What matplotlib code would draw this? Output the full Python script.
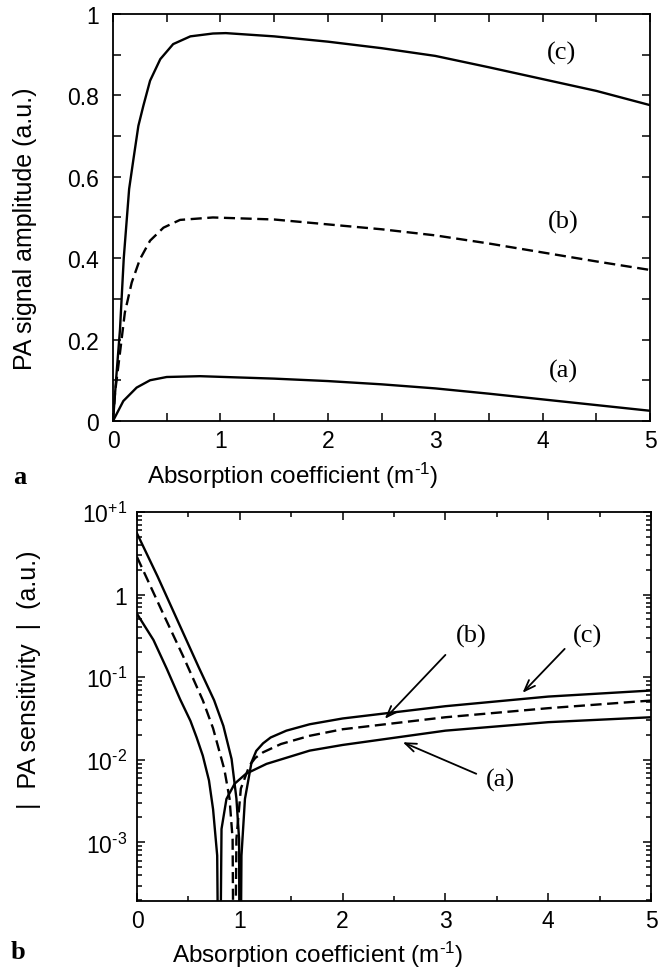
import numpy as np
import matplotlib
matplotlib.use('Agg')
from matplotlib import pyplot as plt
from matplotlib.ticker import FixedLocator, MultipleLocator, LogLocator, NullFormatter

plt.rcParams['font.family'] = ['Liberation Sans', 'DejaVu Sans']
plt.rcParams['mathtext.fontset'] = 'custom'
plt.rcParams['mathtext.rm'] = 'Liberation Sans'
plt.rcParams['mathtext.it'] = 'Liberation Sans'
plt.rcParams['mathtext.default'] = 'regular'
plt.rcParams['lines.scale_dashes'] = False

# (a) upper panel: PA signal amplitude vs absorption coefficient
xa_top = [0, 0.096, 0.22, 0.345, 0.5, 0.81, 1.5, 2, 2.5, 3, 3.5, 4, 4.5, 5]
ya_top = [0, 0.049, 0.082, 0.10, 0.108, 0.11, 0.104, 0.098, 0.090, 0.080, 0.067, 0.053, 0.039, 0.025]
xb_top = [0, 0.019, 0.065, 0.11, 0.174, 0.25, 0.345, 0.47, 0.624, 0.93, 1.5, 2, 2.5, 3, 3.5, 4, 4.5, 5]
yb_top = [0, 0.07, 0.168, 0.266, 0.34, 0.397, 0.443, 0.475, 0.494, 0.50, 0.495, 0.483, 0.471, 0.456, 0.436, 0.414, 0.392, 0.371]
xc_top = [0, 0.028, 0.065, 0.10, 0.15, 0.19, 0.236, 0.283, 0.345, 0.44, 0.56, 0.72, 0.93, 1.05, 1.5, 2, 2.5, 3, 3.5, 4, 4.5, 5]
yc_top = [0, 0.10, 0.225, 0.40, 0.57, 0.643, 0.725, 0.775, 0.836, 0.889, 0.926, 0.945, 0.952, 0.953, 0.945, 0.932, 0.916, 0.897, 0.869, 0.84, 0.811, 0.776]

# (b) lower panel: |PA sensitivity| (zero crossing given as 1e-6)
xa_bot = [0, 0.16, 0.29, 0.42, 0.52, 0.58, 0.64, 0.70, 0.74, 0.78, 0.80, 0.822, 0.87, 0.95, 1.06, 1.26, 1.68, 2, 3, 4, 5]
ya_bot = [0.585, 0.282, 0.126, 0.0537, 0.0295, 0.0186, 0.0112, 0.00562, 0.00251, 0.000692, 1e-6, 0.00145,
          0.00335, 0.00513, 0.00676, 0.00891, 0.0129, 0.0151, 0.0225, 0.0285, 0.0327]
xb_bot = [0, 0.25, 0.45, 0.64, 0.74, 0.85, 0.90, 0.93, 0.945, 0.967, 1.01, 1.094, 1.15, 1.226, 1.4, 1.68, 2, 3, 4, 5]
yb_bot = [2.85, 0.603, 0.178, 0.0525, 0.024, 0.00759, 0.00339, 0.0011, 1e-6, 0.0011, 0.00447,
          0.00851, 0.0105, 0.0123, 0.0155, 0.0195, 0.0234, 0.0327, 0.0421, 0.0521]
xc_bot = [0, 0.2, 0.4, 0.6, 0.75, 0.84, 0.92, 0.967, 0.993, 1.0, 1.016, 1.05, 1.114, 1.16, 1.226, 1.3, 1.453, 1.68, 2, 3, 4, 5]
yc_bot = [5.5, 1.66, 0.468, 0.132, 0.0525, 0.0257, 0.0102, 0.00339, 0.0011, 1e-6, 0.00069, 0.00335,
          0.00933, 0.0128, 0.0158, 0.0186, 0.0225, 0.0269, 0.0316, 0.0445, 0.0582, 0.0689]

top_labels = ['(a)', '(b)', '(c)']
top_label_x = [4.19, 4.19, 4.18]
top_label_y = [0.123, 0.49, 0.906]

bot_labels = ['(a)', '(b)', '(c)']
bot_label_pos = [(3.54, 0.00585), (3.25, 0.319), (4.38, 0.319)]
bot_arrow_start = [(3.30, 0.00676), (3.0, 0.186), (4.16, 0.22)]
bot_arrow_tip = [(2.585, 0.0163), (2.41, 0.0313), (3.75, 0.0646)]

ylog_ticks = [1e-3, 1e-2, 1e-1, 1, 10]
ylog_ticklabels = [r'$10^{\text{-}3}$', r'$10^{\text{-}2}$', r'$10^{\text{-}1}$', '1', r'$10^{+1}$']

xlabel = r'Absorption coefficient (m$^{\text{-}1}$)'

fig = plt.figure(figsize=(6.59, 9.79), dpi=100)
ax1 = fig.add_axes([0.1715, 0.5690, 0.8149, 0.4157])
ax2 = fig.add_axes([0.2079, 0.0787, 0.7800, 0.3973])

lw = 1.7
for ax in (ax1, ax2):
    for s in ax.spines.values():
        s.set_linewidth(1.3)
    ax.tick_params(which='both', direction='in', top=True, right=True, width=1.1, labelsize=16.5)
    ax.tick_params(which='major', length=6)
    ax.tick_params(which='minor', length=3.5)
    ax.set_xlim(0, 5)
    ax.xaxis.set_major_locator(FixedLocator([0, 1, 2, 3, 4, 5]))
    ax.xaxis.set_minor_locator(MultipleLocator(0.5))

# upper panel
ax1.plot(xa_top, ya_top, color='black', lw=lw)
ax1.plot(xb_top, yb_top, color='black', lw=lw, dashes=(8, 4))
ax1.plot(xc_top, yc_top, color='black', lw=lw)
ax1.set_ylim(0, 1)
ax1.yaxis.set_major_locator(FixedLocator([0, 0.2, 0.4, 0.6, 0.8, 1]))
ax1.yaxis.set_minor_locator(MultipleLocator(0.1))
ax1.set_yticklabels(['0', '0.2', '0.4', '0.6', '0.8', '1'])
ax1.tick_params(which='minor', length=6)
ax1.tick_params(axis='y', pad=10)
ax1.tick_params(axis='x', pad=6)
for t, x, y in zip(top_labels, top_label_x, top_label_y):
    ax1.text(x, y, t, family='Liberation Serif', fontsize=19, ha='center', va='center')
ax1.set_xlabel(xlabel, fontsize=17.5, va='center')
ax1.xaxis.set_label_coords(0.335, -0.133)
ax1.set_ylabel('PA signal amplitude (a.u.)', fontsize=18, va='center')
ax1.yaxis.set_label_coords(-0.164, 0.474)

# lower panel
ax2.plot(xa_bot, ya_bot, color='black', lw=lw)
ax2.plot(xb_bot, yb_bot, color='black', lw=lw, dashes=(8, 4))
ax2.plot(xc_bot, yc_bot, color='black', lw=lw)
ax2.set_yscale('log')
ax2.set_ylim(1.95e-4, 10)
ax2.yaxis.set_major_locator(FixedLocator(ylog_ticks))
ax2.set_yticklabels(ylog_ticklabels)
ax2.yaxis.set_minor_locator(LogLocator(base=10, subs=np.arange(2, 10)))
ax2.yaxis.set_minor_formatter(NullFormatter())
ax2.tick_params(axis='y', pad=7)
ax2.tick_params(axis='x', pad=6)
for t, pos, st, tip in zip(bot_labels, bot_label_pos, bot_arrow_start, bot_arrow_tip):
    ax2.text(pos[0], pos[1], t, family='Liberation Serif', fontsize=19, ha='center', va='center')
    ax2.annotate('', xy=tip, xytext=st,
                 arrowprops=dict(arrowstyle='->,head_length=0.8,head_width=0.3', lw=1.3, color='black',
                                 shrinkA=0, shrinkB=0))
ax2.set_xlabel(xlabel, fontsize=17.5, va='center')
ax2.xaxis.set_label_coords(0.352, -0.136)
ax2.set_ylabel('|  PA sensitivity  |  (a.u.)', fontsize=18, va='center')
ax2.yaxis.set_label_coords(-0.21, 0.571)

fig.text(20 / 659, 1 - 478 / 979, 'a', family='Liberation Serif', weight='bold', fontsize=19, ha='center', va='center')
fig.text(18 / 659, 1 - 953 / 979, 'b', family='Liberation Serif', weight='bold', fontsize=19, ha='center', va='center')

fig.savefig('out.png', dpi=100)
